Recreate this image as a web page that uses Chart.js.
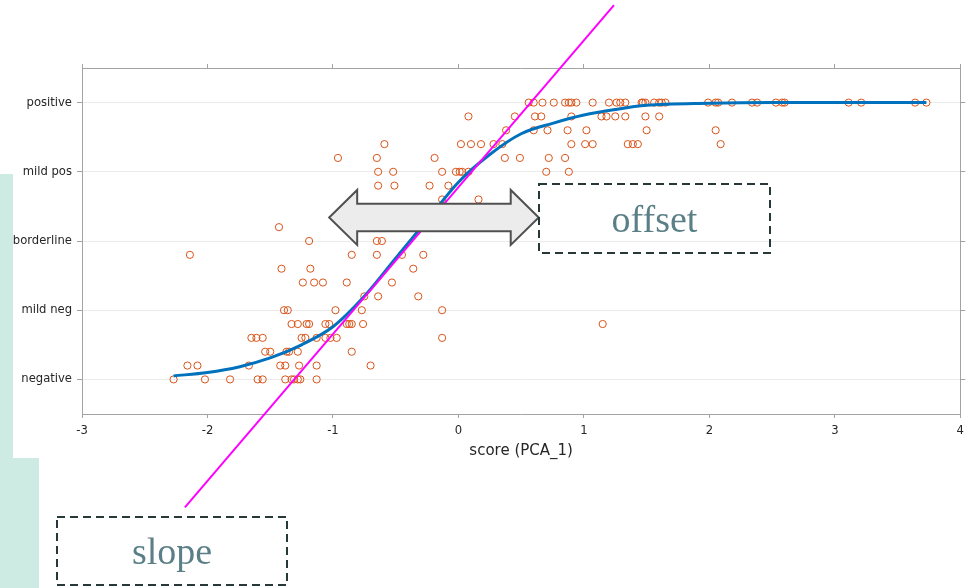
<!DOCTYPE html>
<html>
<head>
<meta charset="utf-8">
<script src="https://cdn.jsdelivr.net/npm/chart.js@4.4.1/dist/chart.umd.min.js"></script>
<style>
  body { margin: 0; background: #fff; }
  #wrap { position: relative; width: 970px; height: 588px; overflow: hidden; }
  .tab { position: absolute; left: 0; background: #cdebe2; }
  canvas { position: absolute; left: 0; top: 0; }
</style>
</head>
<body>
<div id="wrap">
  <div class="tab" style="top:174px;width:13px;height:414px"></div>
  <div class="tab" style="top:458px;width:39px;height:130px"></div>
  <canvas id="chart" width="970" height="588"></canvas>
</div>
<script>
'use strict';

// Rating scale (y axis), 0 = negative ... 4 = positive.
const levelNames = ['negative', 'mild neg', 'borderline', 'mild pos', 'positive'];

// Mean ratings come in steps of 0.2; one list of scores per rating value.
const ratingLevels = [0.0, 0.2, 0.4, 0.6, 0.8, 1.0, 1.2, 1.4, 1.6, 1.8, 2.0, 2.2, 2.6, 2.8, 3.0, 3.2, 3.4, 3.6, 3.8, 4.0];
const scoresByLevel = [
    [-2.27, -2.02, -1.82, -1.60, -1.56, -1.38, -1.33, -1.31, -1.28, -1.26, -1.13],
    [-2.16, -2.08, -1.67, -1.42, -1.38, -1.27, -1.13, -0.70],
    [-1.54, -1.50, -1.37, -1.35, -1.28, -0.85],
    [-1.65, -1.61, -1.56, -1.25, -1.22, -1.13, -1.06, -1.02, -0.97, -0.13],
    [-1.33, -1.28, -1.21, -1.19, -1.06, -1.03, -0.89, -0.87, -0.85, -0.76, 1.15],
    [-1.39, -1.36, -0.98, -0.77, -0.13],
    [-0.75, -0.64, -0.32],
    [-1.24, -1.15, -1.08, -0.89, -0.53],
    [-1.41, -1.18, -0.36],
    [-2.14, -0.85, -0.65, -0.45, -0.28],
    [-1.19, -0.65, -0.61],
    [-1.43],
    [-0.13, 0.16],
    [-0.64, -0.51, -0.23, -0.08],
    [-0.64, -0.52, -0.13, -0.02, 0.01, 0.03, 0.08, 0.70, 0.88],
    [-0.96, -0.65, -0.19, 0.37, 0.49, 0.72, 0.85],
    [-0.59, 0.02, 0.10, 0.18, 0.28, 0.35, 0.90, 1.01, 1.07, 1.35, 1.39, 1.43, 2.09],
    [0.38, 0.60, 0.71, 0.87, 1.02, 1.50, 2.05],
    [0.08, 0.45, 0.61, 0.66, 0.90, 1.14, 1.18, 1.25, 1.33, 1.49, 1.60],
    [0.56, 0.60, 0.67, 0.76, 0.85, 0.88, 0.90, 0.94, 1.07, 1.20, 1.26, 1.29, 1.33,
     1.46, 1.47, 1.49, 1.56, 1.60, 1.62, 1.65, 1.99, 2.05, 2.07, 2.18, 2.34, 2.38,
     2.53, 2.58, 2.60, 3.11, 3.21, 3.64, 3.73],
];

// Fitted sigmoid, sampled along the score axis.
const fitScore  = [-2.27, -2.0, -1.75, -1.5, -1.25, -1.0, -0.75, -0.5, -0.25, 0.0, 0.25, 0.5, 0.75, 1.0, 1.25, 1.5, 2.0, 2.5, 3.0, 3.73];
const fitRating = [0.05, 0.10, 0.18, 0.31, 0.50, 0.76, 1.20, 1.75, 2.30, 2.85, 3.25, 3.55, 3.70, 3.82, 3.90, 3.96, 3.99, 4.0, 4.0, 4.0];

// Tangent at the midpoint (slope), runs past the plot on both ends.
const slopeScore  = [-2.18, 1.24];
const slopeRating = [-1.85, 5.41];

// Double arrow marking the offset of the midpoint.
const arrowFrom = -1.03;
const arrowTo = 0.64;
const arrowRating = 2.34;

const points = [];
ratingLevels.forEach((r, i) => scoresByLevel[i].forEach(s => points.push({ x: s, y: r })));
const fitLine = fitScore.map((s, i) => ({ x: s, y: fitRating[i] }));
const slopeLine = slopeScore.map((s, i) => ({ x: s, y: slopeRating[i] }));

const AXIS = '#a3a3a3';
const TEXT = '#262626';

const boxes = [
    { left: 539, top: 184, w: 231, h: 69, text: 'offset' },
    { left: 57, top: 517, w: 230, h: 68, text: 'slope' },
];

const annotations = {
    id: 'annotations',
    afterDatasetsDraw(chart) {
        const { ctx, scales: { x, y } } = chart;
        const x0 = x.getPixelForValue(arrowFrom);
        const x1 = x.getPixelForValue(arrowTo);
        const yc = y.getPixelForValue(arrowRating);
        const head = 28, hh = 27.5, sh = 13.8;
        ctx.save();
        ctx.beginPath();
        ctx.moveTo(x0, yc);
        ctx.lineTo(x0 + head, yc - hh);
        ctx.lineTo(x0 + head, yc - sh);
        ctx.lineTo(x1 - head, yc - sh);
        ctx.lineTo(x1 - head, yc - hh);
        ctx.lineTo(x1, yc);
        ctx.lineTo(x1 - head, yc + hh);
        ctx.lineTo(x1 - head, yc + sh);
        ctx.lineTo(x0 + head, yc + sh);
        ctx.lineTo(x0 + head, yc + hh);
        ctx.closePath();
        ctx.fillStyle = '#ececec';
        ctx.fill();
        ctx.lineWidth = 2;
        ctx.strokeStyle = '#505050';
        ctx.stroke();

        // dashed label boxes
        for (const b of boxes) {
            ctx.setLineDash([8, 5]);
            ctx.lineWidth = 2;
            ctx.strokeStyle = '#263838';
            ctx.strokeRect(b.left, b.top, b.w, b.h);
            ctx.setLineDash([]);
            ctx.fillStyle = '#5b7f87';
            ctx.font = '38px "Liberation Serif", serif';
            ctx.textAlign = 'center';
            ctx.textBaseline = 'alphabetic';
            ctx.fillText(b.text, b.left + b.w / 2, b.top + b.h / 2 + 13);
        }
        ctx.restore();
    }
};

const levelTicks = scale => { scale.ticks = levelNames.map((_, i) => ({ value: i })); };

new Chart(document.getElementById('chart'), {
    type: 'scatter',
    data: {
        datasets: [
            {
                data: slopeLine,
                showLine: true,
                borderColor: '#ff00ff',
                borderWidth: 2,
                pointRadius: 0,
                clip: false,
            },
            {
                data: fitLine,
                showLine: true,
                borderColor: '#0072bd',
                borderWidth: 3,
                pointRadius: 0,
                cubicInterpolationMode: 'monotone',
            },
            {
                data: points,
                pointStyle: 'circle',
                pointRadius: 3.6,
                borderWidth: 1,
                borderColor: '#d95319',
                backgroundColor: 'rgba(0,0,0,0)',
            },
        ],
    },
    options: {
        responsive: false,
        animation: false,
        devicePixelRatio: 1,
        layout: { padding: { left: 0, right: 0, top: 0, bottom: 124 } },
        plugins: { legend: { display: false }, tooltip: { enabled: false } },
        scales: {
            x: {
                position: 'bottom',
                min: -3,
                max: 4,
                ticks: { stepSize: 1, color: TEXT, font: { family: 'DejaVu Sans', size: 11.6 }, padding: 6 },
                grid: { drawOnChartArea: false, tickLength: 4, color: AXIS },
                border: { color: AXIS },
                title: { display: true, text: 'score (PCA_1)', color: TEXT, font: { family: 'DejaVu Sans', size: 15 }, padding: { top: 4, bottom: 4 } },
                afterFit: s => { s.height = 50; },
            },
            xTop: {
                position: 'top',
                min: -3,
                max: 4,
                ticks: { stepSize: 1, display: false },
                grid: { drawOnChartArea: false, tickLength: 4, color: AXIS },
                border: { color: AXIS },
                afterFit: s => { s.height = 68; },
            },
            y: {
                position: 'left',
                min: -0.5,
                max: 4.5,
                afterBuildTicks: levelTicks,
                ticks: { callback: v => levelNames[v], color: TEXT, font: { family: 'DejaVu Sans', size: 11.6 }, padding: 5 },
                grid: { color: '#ebebeb', tickColor: AXIS, tickLength: 5 },
                border: { color: AXIS },
                afterFit: s => { s.width = 82; },
            },
            yRight: {
                position: 'right',
                min: -0.5,
                max: 4.5,
                afterBuildTicks: levelTicks,
                ticks: { display: false },
                grid: { drawOnChartArea: false, tickLength: 5, color: AXIS },
                border: { color: AXIS },
                afterFit: s => { s.width = 9; },
            },
        },
    },
    plugins: [annotations],
});
</script>
</body>
</html>
